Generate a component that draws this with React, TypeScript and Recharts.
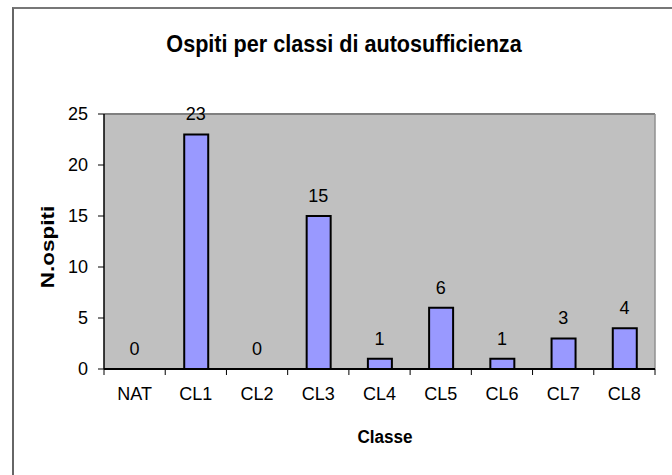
import React from 'react';
import { ComposedChart, Bar, Line, XAxis, YAxis, CartesianGrid, ReferenceLine, LabelList } from 'recharts';

const categories = ['NAT', 'CL1', 'CL2', 'CL3', 'CL4', 'CL5', 'CL6', 'CL7', 'CL8'];
const ospiti = [0, 23, 0, 15, 1, 6, 1, 3, 4];
const yTicks = [0, 5, 10, 15, 20, 25];

const data = categories.map((c, i) => ({ classe: c, ospiti: ospiti[i] }));

const font = 'Liberation Sans, Arial, sans-serif';
const TICK_SIZE = 6;
const TICK_MARGIN = 12;

// Excel-style category tick: label in the middle, tick marks between categories
const CategoryTick = (props: any) => {
    const { x, y, payload, index, width, visibleTicksCount } = props;
    const band = width && visibleTicksCount ? width / visibleTicksCount : 0;
    const axisY = y - TICK_MARGIN - TICK_SIZE;
    return (
        <g>
            {band > 0 && <line x1={x - band / 2} x2={x - band / 2} y1={axisY} y2={axisY + TICK_SIZE} stroke="#000" />}
            {band > 0 && index === visibleTicksCount - 1 &&
                <line x1={x + band / 2} x2={x + band / 2} y1={axisY} y2={axisY + TICK_SIZE} stroke="#000" />}
            <text x={x} y={y} dy="0.71em" textAnchor="middle" fill="#000" fontSize={18} fontFamily={font}>{payload.value}</text>
        </g>
    );
};

export default function App() {
    const tickStyle = { fill: '#000', fontSize: 18, fontFamily: font };
    const last = categories.length - 1;

    return (
        <div style={{ position: 'absolute', left: 0, top: 0, width: 672, height: 475, background: '#fff', overflow: 'hidden' }}>
            <div style={{ position: 'absolute', left: 12, top: 7, width: 660, height: 468, borderLeft: '2px solid #666', borderTop: '2px solid #777' }} />
            <div style={{ position: 'absolute', left: 344, top: 44, transform: 'translate(-50%, -50%) scaleX(0.9)', fontFamily: font, fontWeight: 'bold', fontSize: 24, whiteSpace: 'nowrap' }}>
                Ospiti per classi di autosufficienza
            </div>
            <div style={{ position: 'absolute', left: 385, top: 437, transform: 'translate(-50%, -50%) scaleX(0.95)', fontFamily: font, fontWeight: 'bold', fontSize: 18, whiteSpace: 'nowrap' }}>
                Classe
            </div>
            <div style={{ position: 'absolute', left: 48, top: 247, transform: 'translate(-50%, -50%) rotate(-90deg) scaleX(1.25)', fontFamily: font, fontWeight: 'bold', fontSize: 18, whiteSpace: 'nowrap' }}>
                N.ospiti
            </div>
            <div style={{ position: 'absolute', left: 0, top: 0 }}>
                <ComposedChart width={672} height={475} data={data} barSize={24}
                    margin={{ top: 114, right: 17, bottom: 0, left: 0 }}>
                    <CartesianGrid fill="#C0C0C0" horizontal={false} vertical={false} yAxisId="y" xAxisId="cat" />
                    <XAxis xAxisId="cat" dataKey="classe" height={106} axisLine={{ stroke: '#000', strokeWidth: 2 }}
                        tickLine={false} tickSize={TICK_SIZE} tickMargin={TICK_MARGIN} tick={<CategoryTick />} interval={0} />
                    <XAxis xAxisId="edges" type="number" domain={[0, last]} allowDataOverflow hide />
                    <YAxis yAxisId="y" width={104} domain={[0, 25]} ticks={yTicks} axisLine={{ stroke: '#000', strokeWidth: 1.5 }}
                        tickLine={{ stroke: '#000' }} tickSize={6} tickMargin={10} tick={tickStyle} />
                    <ReferenceLine yAxisId="y" xAxisId="cat" y={25} stroke="#808080" strokeWidth={2} />
                    <ReferenceLine yAxisId="y" xAxisId="edges" x={last} stroke="#909090" strokeWidth={1.5} />
                    <Bar dataKey="ospiti" xAxisId="cat" yAxisId="y" fill="#9999FF" stroke="#000" strokeWidth={2} isAnimationActive={false} />
                    <Line dataKey="ospiti" xAxisId="cat" yAxisId="y" stroke="none" dot={false} activeDot={false} isAnimationActive={false}>
                        <LabelList dataKey="ospiti" position="top" offset={14} fill="#000" fontSize={18} fontFamily={font} />
                    </Line>
                </ComposedChart>
            </div>
        </div>
    );
}
